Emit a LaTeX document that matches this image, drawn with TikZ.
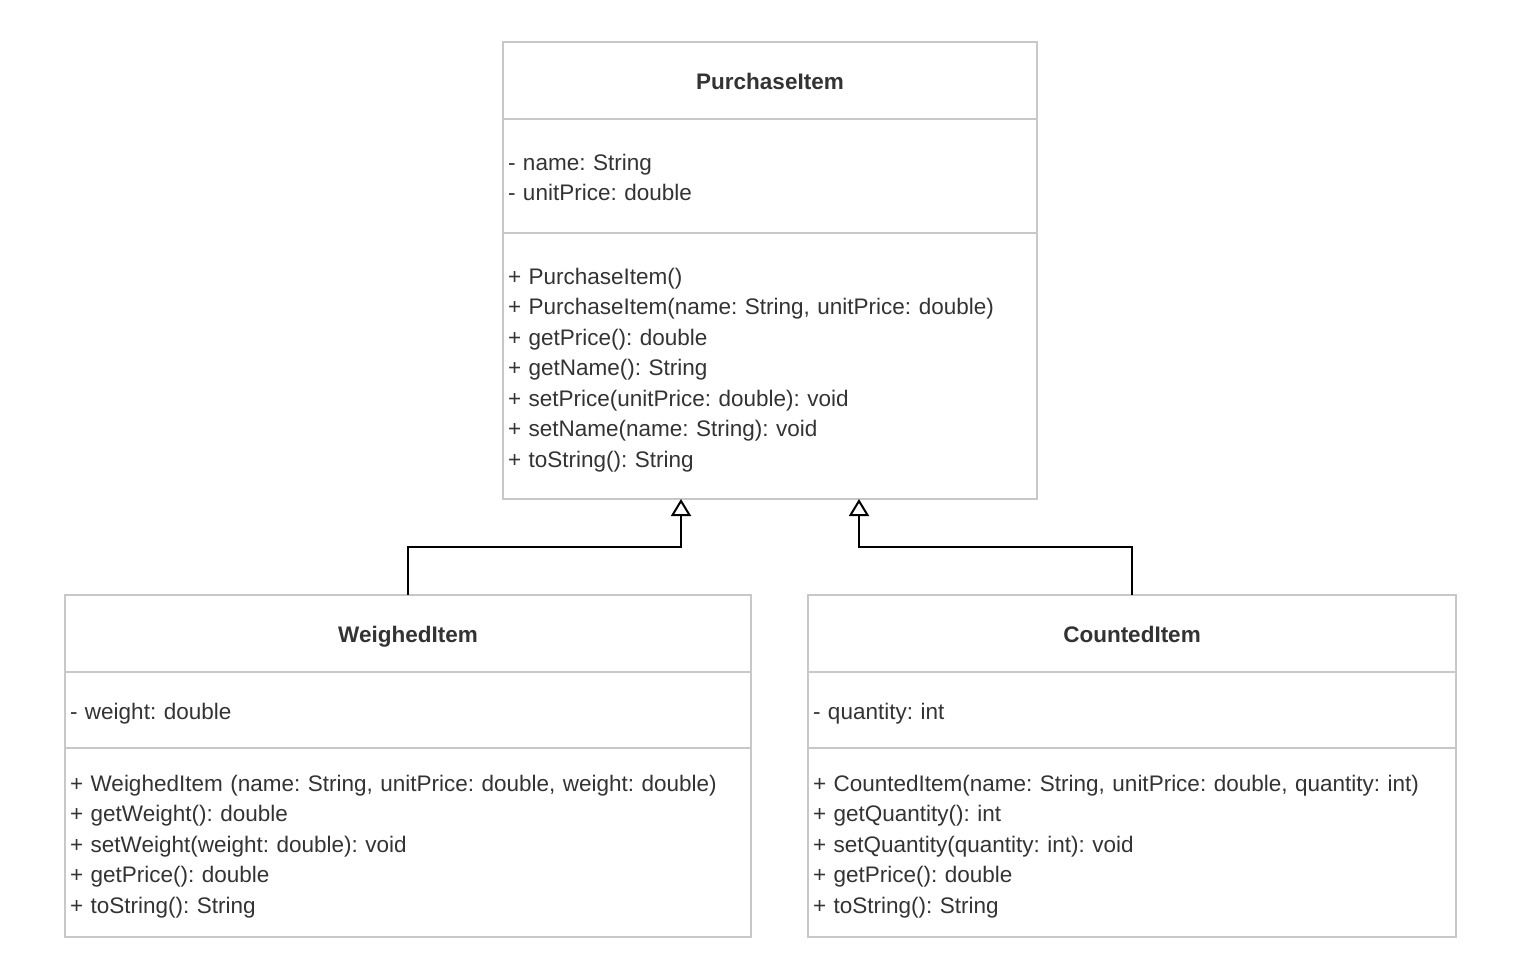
\documentclass[tikz,border=0pt]{standalone}
\usepackage{fontspec}
\setmainfont{Liberation Sans}
\usetikzlibrary{positioning,arrows.meta}
\definecolor{boxgray}{RGB}{200,200,200}
\definecolor{textgray}{RGB}{51,51,51}
\frenchspacing

\begin{document}
\begin{tikzpicture}[x = 1pt, y = -1pt, every node/.style={draw = boxgray, line width = 1.5pt, outer sep = 0pt, text = textgray, font = \fontsize{22.5}{30.5}\selectfont}, namebox/.style={minimum height = 77pt, text height = 22pt, text depth = 5pt, font = \fontsize{22.5}{30.5}\selectfont\bfseries}, memberbox/.style={align = left, inner xsep = 5pt, inner ysep = 0pt, execute at begin node={\rule{0pt}{#1}}}, memberbox/.default = 24pt, inherit/.style={draw = black, line width = 2pt, -{Triangle[open, width = 20pt, length = 17pt]}}]

  \useasboundingbox (0, 0) rectangle (1521, 980);

  \node [namebox, minimum width = 534pt, anchor = north west] (pName) at (503, 42) {PurchaseItem};
  \node [memberbox = 19.5pt, text width = 524pt, minimum height = 114pt, below = 0pt of pName] (pAttr) {- name: String\\- unitPrice: double};
  \node [memberbox, text width = 524pt, minimum height = 266pt, below = 0pt of pAttr] (pMeth) {+ PurchaseItem()\\+ PurchaseItem(name: String, unitPrice: double)\\+ getPrice(): double\\+ getName(): String\\+ setPrice(unitPrice: double): void\\+ setName(name: String): void\\+ toString(): String};

  \node [namebox, minimum width = 686pt, anchor = north west] (wName) at (65, 595) {WeighedItem};
  \node [memberbox = 24.5pt, text width = 676pt, minimum height = 76pt, below = 0pt of wName] (wAttr) {- weight: double};
  \node [memberbox, text width = 676pt, minimum height = 189pt, below = 0pt of wAttr] (wMeth) {+ WeighedItem (name: String, unitPrice: double, weight: double)\\+ getWeight(): double\\+ setWeight(weight: double): void\\+ getPrice(): double\\+ toString(): String};

  \node [namebox, minimum width = 648pt, anchor = north west] (cName) at (808, 595) {CountedItem};
  \node [memberbox = 24.5pt, text width = 638pt, minimum height = 76pt, below = 0pt of cName] (cAttr) {- quantity: int};
  \node [memberbox, text width = 638pt, minimum height = 189pt, below = 0pt of cAttr] (cMeth) {+ CountedItem(name: String, unitPrice: double, quantity: int)\\+ getQuantity(): int\\+ setQuantity(quantity: int): void\\+ getPrice(): double\\+ toString(): String};

  \path (pMeth.south west) ++(178, 0) coordinate (pLeft);
  \path (pMeth.south west) ++(356, 0) coordinate (pRight);

  \draw [inherit] (wName.north) -- ++(0, -48) -| (pLeft);
  \draw [inherit] (cName.north) -- ++(0, -48) -| (pRight);

\end{tikzpicture}
\end{document}
